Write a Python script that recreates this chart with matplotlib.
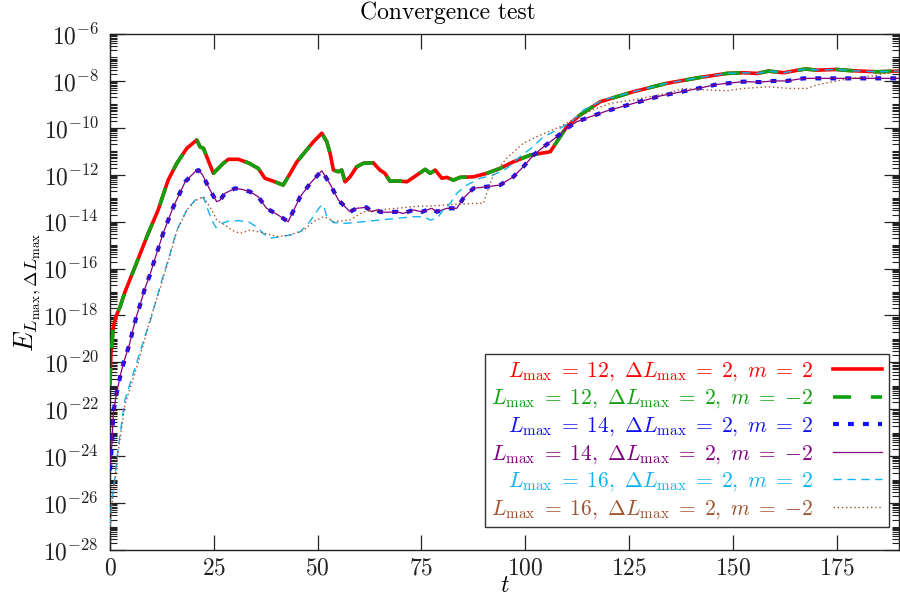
import numpy as np
import matplotlib
matplotlib.use("Agg")
import matplotlib.pyplot as plt
from matplotlib import ticker

plt.rcParams['font.family'] = 'serif'
plt.rcParams['font.serif'] = ['cmr10']
plt.rcParams['mathtext.fontset'] = 'cm'
plt.rcParams['axes.formatter.use_mathtext'] = True

# ---------------- data (t, log10 E) ----------------
t_red = [0, 0.25, 0.8, 1.4, 2.4, 3.6, 6.0, 9.2, 11.6, 14.0, 16.1, 18.5, 20.9, 21.7, 22.5, 23.3,
         24.9, 27.3, 28.5, 30.9, 33.3, 35.7, 37.3, 39.7, 41.7, 43.4, 45.0, 47.0, 49.0, 51.0,
         52.2, 53.0, 53.8, 55.0, 55.8, 56.6, 57.8, 59.4, 61.0, 63.4, 65.0, 66.2, 67.4, 69.8,
         71.5, 73.9, 75.9, 77.1, 78.3, 79.9, 81.1, 82.7, 84.3, 87.5, 90.7, 93.9, 97.1, 101.2,
         106.0, 110.0, 113.2, 118.0, 126.0, 134.1, 142.1, 148.5, 152.5, 155.8, 158.6, 162.2,
         167.4, 170.2, 175.0, 178.2, 184.7, 190.0]
log_red = [-20.8, -19.6, -18.5, -18.06, -17.64, -17.0, -15.94, -14.50, -13.5, -12.23, -11.51,
           -10.87, -10.52, -10.81, -10.87, -11.23, -11.94, -11.51, -11.34, -11.34, -11.49, -11.73,
           -12.15, -12.30, -12.44, -11.94, -11.45, -11.02, -10.59, -10.23, -10.59, -11.09, -11.80,
           -11.87, -11.80, -12.30, -12.09, -11.66, -11.51, -11.49, -11.80, -11.94, -12.27, -12.27,
           -12.30, -12.01, -11.77, -11.94, -11.80, -12.15, -12.11, -12.23, -12.11, -12.09, -11.94,
           -11.73, -11.45, -11.16, -11.02, -9.95, -9.45, -8.89, -8.46, -8.10, -7.85, -7.68, -7.65,
           -7.68, -7.58, -7.65, -7.49, -7.54, -7.51, -7.56, -7.61, -7.58]

t_green = t_red
log_green = [-21.0, -19.7, -18.5, -18.06, -17.64, -17.0, -15.94, -14.50, -13.5, -12.23, -11.51,
             -10.87, -10.52, -10.81, -10.87, -11.23, -11.94, -11.51, -11.34, -11.34, -11.49, -11.73,
             -12.15, -12.30, -12.44, -11.94, -11.45, -11.02, -10.59, -10.23, -10.59, -11.09, -11.80,
             -11.87, -11.80, -12.30, -12.09, -11.66, -11.51, -11.49, -11.80, -11.94, -12.27, -12.27,
             -12.30, -12.01, -11.77, -11.94, -11.80, -12.15, -12.11, -12.23, -12.11, -12.09, -11.94,
             -11.73, -11.45, -11.16, -11.02, -9.95, -9.45, -8.89, -8.46, -8.10, -7.85, -7.68, -7.65,
             -7.68, -7.58, -7.65, -7.49, -7.54, -7.51, -7.56, -7.61, -7.58]

t_blue = [0, 0.24, 0.5, 0.8, 1.3, 2.0, 2.7, 3.6, 4.7, 5.5, 6.4, 7.4, 8.4, 9.6, 10.6, 12.8, 15.2,
          18.1, 20.5, 21.3, 22.3, 23.3, 24.5, 25.7, 26.5, 27.7, 30.1, 31.7, 33.7, 35.7, 37.7,
          40.5, 42.9, 45.8, 48.2, 51.0, 53.0, 55.0, 57.8, 59.4, 61.8, 63.0, 64.2, 65.0, 66.6,
          69.0, 70.6, 73.0, 75.1, 77.5, 78.7, 81.1, 83.5, 85.1, 87.5, 90.7, 93.9, 97.1, 99.5,
          102.0, 104.4, 107.6, 110.0, 112.4, 115.6, 119.6, 126.0, 132.5, 139.7, 146.1, 152.5,
          156.5, 159.7, 163.0, 167.0, 173.4, 179.8, 190.0]
log_blue = [-24.6, -24.02, -23.4, -22.18, -21.6, -20.97, -20.4, -19.83, -19.23, -18.62, -18.03,
            -17.46, -16.85, -16.28, -15.71, -14.5, -13.39, -12.30, -11.87, -11.8, -12.01, -12.37,
            -12.79, -13.15, -13.08, -12.79, -12.58, -12.62, -12.72, -12.94, -13.43, -13.72, -14.0,
            -12.94, -12.37, -11.83, -12.4, -13.08, -13.58, -13.43, -13.39, -13.58, -13.5, -13.58,
            -13.6, -13.58, -13.65, -13.5, -13.58, -13.43, -13.58, -13.43, -13.43, -13.0, -12.58,
            -12.51, -12.44, -12.09, -11.66, -11.16, -10.81, -10.38, -10.02, -9.74, -9.53, -9.28,
            -8.96, -8.64, -8.39, -8.15, -8.03, -8.05, -8.0, -8.0, -7.89, -7.89, -7.89, -7.89]

t_purple = t_blue
log_purple = [-24.4] + log_blue[1:]

t_cyan = [0, 0.4, 1.2, 2.0, 3.6, 5.2, 6.8, 8.4, 10.0, 12.0, 14.0, 16.1, 18.5, 20.5, 22.5, 23.3,
          24.5, 25.5, 26.9, 28.9, 31.0, 33.3, 35.3, 36.9, 38.5, 40.9, 43.4, 45.8, 47.8, 50.6,
          51.4, 52.2, 53.8, 57.0, 61.0, 65.0, 69.0, 73.0, 75.5, 77.1, 78.7, 80.3, 81.9, 83.5,
          85.9, 89.1, 92.3, 95.5, 98.7, 101.2, 104.4, 108.4, 111.6, 114.0, 118.8, 126.0, 134.1,
          142.1, 148.5, 152.5, 155.8, 158.6, 162.2, 167.4, 170.2, 175.0, 178.2, 184.7, 190.0]
log_cyan = [-27.0, -26.0, -24.9, -23.6, -21.6, -20.7, -19.8, -18.9, -18.06, -16.78, -15.64,
            -14.36, -13.5, -13.08, -12.96, -13.36, -13.93, -14.25, -14.07, -13.96, -13.96, -14.0,
            -14.22, -14.5, -14.71, -14.64, -14.57, -14.43, -14.07, -13.36, -13.29, -13.79, -14.04,
            -14.07, -14.0, -13.93, -13.86, -13.79, -13.79, -13.93, -13.86, -13.5, -13.22, -12.79,
            -12.44, -12.15, -12.01, -11.73, -11.23, -10.9, -10.38, -10.02, -9.67, -9.24, -8.81,
            -8.46, -8.10, -7.85, -7.68, -7.65, -7.68, -7.58, -7.65, -7.49, -7.54, -7.51, -7.56,
            -7.61, -7.58]

t_brown = [0, 0.4, 1.2, 2.0, 3.6, 5.2, 6.8, 8.4, 9.6, 12.0, 14.0, 16.1, 18.5, 20.5, 22.5, 24.5,
           25.7, 26.9, 27.7, 29.3, 31.3, 33.7, 35.7, 38.9, 40.1, 43.4, 46.6, 49.0, 51.4, 52.6,
           53.8, 57.8, 61.0, 65.0, 69.0, 73.0, 77.1, 81.1, 84.3, 88.3, 89.9, 90.7, 92.3, 95.5,
           99.5, 103.6, 108.4, 112.0, 116.0, 120.4, 126.0, 134.1, 138.0, 144.5, 148.5, 152.5,
           158.2, 163.8, 167.8, 170.2, 174.2, 178.2, 183.8, 186.3, 190.0]
log_brown = [-27.2, -26.2, -25.0, -23.8, -21.8, -20.9, -20.0, -19.0, -18.2, -16.9, -15.7, -14.4,
             -13.5, -13.1, -12.94, -13.5, -13.93, -14.07, -14.14, -14.36, -14.5, -14.36, -14.43,
             -14.57, -14.64, -14.57, -14.36, -14.0, -13.79, -13.86, -14.0, -13.93, -13.58, -13.5,
             -13.43, -13.36, -13.33, -13.29, -13.25, -13.22, -13.22, -12.79, -12.01, -11.3,
             -10.66, -10.31, -9.95, -9.6, -9.25, -8.96, -8.81, -8.53, -8.32, -8.39, -8.42, -8.32,
             -8.25, -8.32, -8.32, -8.17, -8.03, -7.89, -7.79, -7.68, -7.61]

labels = [r'$L_\mathrm{max}\;=\;12,\ \Delta L_\mathrm{max}\;=\;2,\ m\;=\;2$',
          r'$L_\mathrm{max}\;=\;12,\ \Delta L_\mathrm{max}\;=\;2,\ m\;=\;{-2}$',
          r'$L_\mathrm{max}\;=\;14,\ \Delta L_\mathrm{max}\;=\;2,\ m\;=\;2$',
          r'$L_\mathrm{max}\;=\;14,\ \Delta L_\mathrm{max}\;=\;2,\ m\;=\;{-2}$',
          r'$L_\mathrm{max}\;=\;16,\ \Delta L_\mathrm{max}\;=\;2,\ m\;=\;2$',
          r'$L_\mathrm{max}\;=\;16,\ \Delta L_\mathrm{max}\;=\;2,\ m\;=\;{-2}$']

# ---------------- figure ----------------
fig = plt.figure(figsize=(9, 5.97), dpi=100)
ax = fig.add_axes([0.1222, 0.0787, 0.8768, 0.8643])

def pw(v):
    return 10.0 ** np.asarray(v)

ax.plot(t_red, pw(log_red), color='#ff0000', lw=2.6, ls='-', label=labels[0], zorder=2)
ax.plot(t_green, pw(log_green), color='#10a010', lw=2.6, ls=(0, (5, 5.5)), label=labels[1], zorder=3)
ax.plot(t_blue, pw(log_blue), color='#1010f8', lw=3.0, ls=(0, (1.4, 2.2)), label=labels[2], zorder=4)
ax.plot(t_purple, pw(log_purple), color='#800080', lw=0.9, ls='-', label=labels[3], zorder=5)
ax.plot(t_cyan, pw(log_cyan), color='#10b4f4', lw=1.0, ls=(0, (6, 4)), label=labels[4], zorder=6)
ax.plot(t_brown, pw(log_brown), color='#a0522d', lw=1.0, ls=(0, (1, 2)), label=labels[5], zorder=7)

ax.set_yscale('log')
ax.set_xlim(0, 190)
ax.set_ylim(1e-28, 1e-6)
ax.xaxis.set_major_locator(ticker.FixedLocator([0, 25, 50, 75, 100, 125, 150, 175]))
ax.yaxis.set_major_locator(ticker.LogLocator(base=100.0, numticks=30))
ax.yaxis.set_minor_locator(ticker.LogLocator(base=10.0, subs=np.arange(1, 10), numticks=300))
ax.yaxis.set_major_formatter(ticker.LogFormatterMathtext(base=10))
ax.yaxis.set_minor_formatter(ticker.NullFormatter())

ax.tick_params(which='both', direction='in', top=True, right=True, colors='#222222',
               labelsize=17, labelcolor='#222222')
ax.tick_params(which='major', length=11, width=0.9)
ax.tick_params(which='minor', length=5, width=0.8)
ax.tick_params(axis='x', pad=5)
ax.tick_params(axis='y', pad=8)
for s in ax.spines.values():
    s.set_linewidth(1.0)
    s.set_color('#222222')

ax.set_xlabel(r'$t$', fontsize=17, labelpad=-3)
ax.set_ylabel(r'$E_{L_\mathrm{max},\Delta L_\mathrm{max}}$', fontsize=19, labelpad=0)
fig.text(0.498, 0.978, 'Convergence test', ha='center', va='center', fontsize=17)

leg = ax.legend(loc='lower right', bbox_to_anchor=(0.987, 0.0446), borderaxespad=0,
                markerfirst=False, labelcolor='linecolor', fontsize=15.5, fancybox=False,
                framealpha=1, edgecolor='#333333', handlelength=2.3, handletextpad=0.9,
                labelspacing=0.22, borderpad=0.3)
leg.get_frame().set_linewidth(1.0)
leg.set_zorder(10)

fig.savefig('out.png', dpi=100)
